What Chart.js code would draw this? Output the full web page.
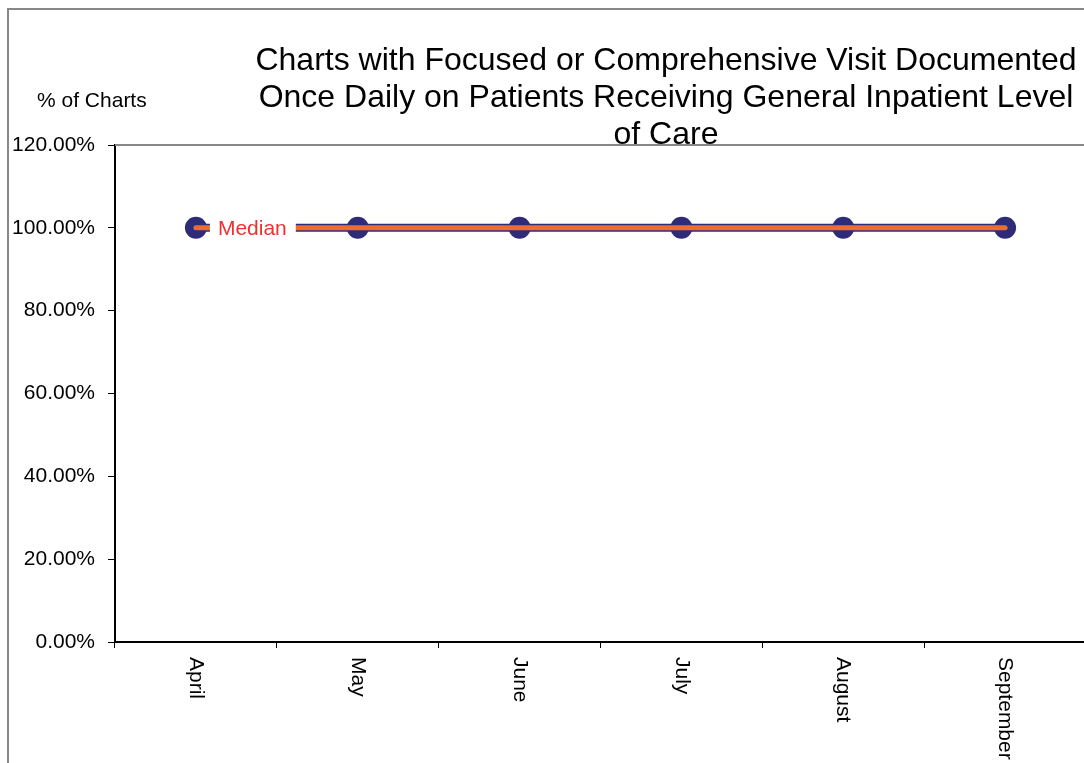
<!DOCTYPE html>
<html>
<head>
<meta charset="utf-8">
<script src="https://cdn.jsdelivr.net/npm/chart.js@4"></script>
<style>
    html, body { margin: 0; padding: 0; background: #fff; overflow: hidden; }
    #wrap { width: 1084px; height: 763px; overflow: hidden; }
</style>
</head>
<body>
<div id="wrap"><canvas id="chart" width="1100" height="763"></canvas></div>
<script>
// Datos del gráfico
const months = ['April', 'May', 'June', 'July', 'August', 'September'];
const pctCharts = [100, 100, 100, 100, 100, 100];
const medianValues = [100, 100, 100, 100, 100, 100];
const titleLines = [
    'Charts with Focused or Comprehensive Visit Documented',
    'Once Daily on Patients Receiving General Inpatient Level',
    'of Care'
];
const yAxisTitle = '% of Charts';
const medianLabel = 'Median';

const FONT = '"Liberation Sans", Arial, Helvetica, sans-serif';
const NAVY = '#2e2b78';
const ORANGE = '#f26b2c';

// Textos, marco y etiquetas giradas
const decorations = {
    id: 'decorations',
    afterDraw(chart) {
        const ctx = chart.ctx;
        const area = chart.chartArea;
        const xs = chart.scales.x;
        const ys = chart.scales.y;
        ctx.save();

        // marco exterior
        ctx.strokeStyle = '#888';
        ctx.lineWidth = 2;
        ctx.beginPath();
        ctx.moveTo(8, 763);
        ctx.lineTo(8, 9);
        ctx.lineTo(1100, 9);
        ctx.stroke();

        // borde superior del área de trazado
        ctx.beginPath();
        ctx.moveTo(area.left, area.top);
        ctx.lineTo(area.right, area.top);
        ctx.stroke();

        // título
        ctx.fillStyle = '#000';
        ctx.font = '32px ' + FONT;
        ctx.textAlign = 'center';
        ctx.textBaseline = 'middle';
        titleLines.forEach((line, i) => ctx.fillText(line, 666, 61 + i * 37));

        // título eje Y
        ctx.font = '21px ' + FONT;
        ctx.textAlign = 'left';
        ctx.fillText(yAxisTitle, 37, 101);

        // etiquetas del eje X (giradas)
        months.forEach((m, i) => {
            const x = xs.getPixelForValue(i);
            ctx.save();
            ctx.translate(x, area.bottom + 15);
            ctx.rotate(Math.PI / 2);
            ctx.textAlign = 'left';
            ctx.textBaseline = 'middle';
            ctx.fillText(m, 0, 0);
            ctx.restore();
        });

        // etiqueta de la mediana
        const x0 = xs.getPixelForValue(0);
        const y0 = ys.getPixelForValue(medianValues[0]);
        ctx.font = '21px ' + FONT;
        const w = ctx.measureText(medianLabel).width;
        ctx.fillStyle = '#fff';
        ctx.fillRect(x0 + 14, y0 - 8, w + 17, 16);
        ctx.fillStyle = '#ee3030';
        ctx.textAlign = 'left';
        ctx.textBaseline = 'middle';
        ctx.fillText(medianLabel, x0 + 22, y0 + 1);

        ctx.restore();
    }
};

new Chart(document.getElementById('chart'), {
    type: 'line',
    data: {
        labels: months,
        datasets: [
            {
                label: '% of Charts',
                data: pctCharts,
                borderColor: NAVY,
                backgroundColor: NAVY,
                borderWidth: 8,
                pointRadius: 11,
                pointBorderWidth: 0,
                pointBackgroundColor: NAVY,
                order: 1
            },
            {
                label: 'Median',
                data: medianValues,
                borderColor: ORANGE,
                borderWidth: 5,
                borderCapStyle: 'round',
                pointRadius: 0,
                order: 0
            }
        ]
    },
    options: {
        responsive: false,
        animation: false,
        devicePixelRatio: 1,
        layout: { padding: { left: 0, top: 145, right: 14, bottom: 0 } },
        plugins: {
            legend: { display: false },
            title: { display: false },
            tooltip: { enabled: false }
        },
        scales: {
            x: {
                offset: true,
                grid: { display: true, drawOnChartArea: false, offset: true, tickLength: 6, color: '#000', lineWidth: 1 },
                border: { display: true, color: '#000', width: 2 },
                ticks: { display: false },
                afterFit: (s) => { s.height = 121; }
            },
            y: {
                min: 0,
                max: 120,
                ticks: {
                    stepSize: 20,
                    padding: 13,
                    color: '#000',
                    font: { family: FONT, size: 21 },
                    callback: (v) => v.toFixed(2) + '%'
                },
                grid: { display: true, drawOnChartArea: false, tickLength: 7, color: '#000', lineWidth: 1 },
                border: { display: true, color: '#000', width: 2 },
                afterFit: (s) => { s.width = 115; }
            }
        }
    },
    plugins: [decorations]
});
</script>
</body>
</html>
